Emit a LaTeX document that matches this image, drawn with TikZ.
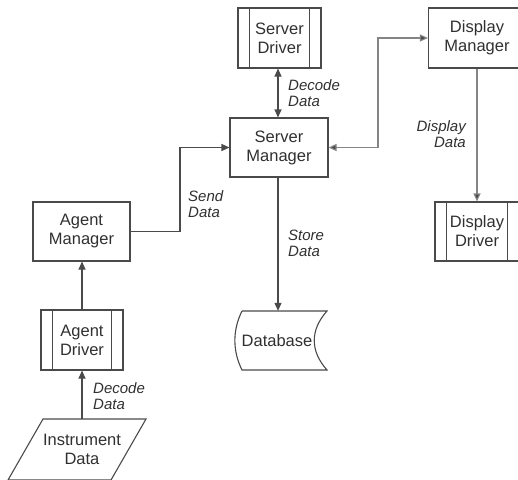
\documentclass[tikz,border=0pt]{standalone}
\usepackage{fontspec}
\setmainfont{Liberation Sans}
\usetikzlibrary{arrows.meta}
\definecolor{boxc}{HTML}{4A4A4A}
\definecolor{linec}{HTML}{4A4A4A}
\definecolor{lightc}{HTML}{858585}
\definecolor{txtc}{HTML}{303030}
\begin{document}
\begin{tikzpicture}[x=1pt,y=-1pt,
  box/.style={draw=boxc, line width=1.1pt, inner sep=0pt, align=center, text=txtc,
    font=\fontsize{16.5}{19}\selectfont},
  procbox/.style={box, path picture={
    \draw[boxc,line width=1.1pt] ([xshift=11.5pt]path picture bounding box.north west) -- ([xshift=11.5pt]path picture bounding box.south west);
    \draw[boxc,line width=1.1pt] ([xshift=-11.5pt]path picture bounding box.north east) -- ([xshift=-11.5pt]path picture bounding box.south east);}},
  plain/.style={inner sep=0pt, align=center, text=txtc, font=\fontsize{16.5}{19}\selectfont},
  shapeline/.style={draw=boxc, line width=1.1pt},
  conn/.style={draw=linec, line width=1.1pt, -{Triangle[length=8pt,width=7pt]}},
  connlight/.style={draw=lightc, line width=1.1pt, -{Triangle[length=8pt,width=7pt,fill=linec]}},
  both/.style={{Triangle[length=8pt,width=7pt,fill=linec]}-{Triangle[length=8pt,width=7pt,fill=linec]}},
  lbl/.style={inner sep=0pt, text=txtc, font=\fontsize{15}{16}\selectfont\itshape}
]
\useasboundingbox (0,0) rectangle (518,479);

% nodes
\node[procbox, minimum width=83pt, minimum height=60pt] (sd) at (279.5,38) {Server\\Driver};
\node[box, minimum width=98pt, minimum height=59pt] (sm) at (279,147.5) {Server\\Manager};
\node[box, minimum width=97pt, minimum height=60pt] (dm) at (477,38) {Display\\Manager};
\node[procbox, minimum width=84pt, minimum height=59pt] (dd) at (477,231.5) {Display\\Driver};
\node[box, minimum width=97pt, minimum height=59pt] (am) at (81.5,231.5) {Agent\\Manager};
\node[procbox, minimum width=82pt, minimum height=60pt] (ad) at (82,340) {Agent\\Driver};

% database (stored data symbol)
\draw[shapeline] (242,311) -- (327,311) .. controls (310,330) and (310,351) .. (327,370)
  -- (242,370) .. controls (232.5,351) and (232.5,330) .. (242,311);
\node[plain, minimum width=85pt, minimum height=59pt] (db) at (277,340.5) {Database};

% instrument data (parallelogram)
\draw[shapeline] (43,419) -- (146,419) -- (111,480) -- (8,480) -- cycle;
\node[plain, minimum width=90pt, minimum height=60pt] (idata) at (82,449) {Instrument\\Data};

% bend points
\coordinate (sbend) at (180,0);
\coordinate (rbend) at (378,0);

% connectors
\draw[conn] (idata.north) -- (ad.south);
\draw[conn] (ad.north) -- (ad.north |- am.south);
\draw[conn] (am.east) -- (am.east -| sbend) -- (sbend |- sm.west) -- (sm.west);
\draw[conn, both] (sm.north -| 278,0) -- (278,0 |- sd.south);
\draw[conn] (sm.south -| 278,0) -- (278,0 |- db.north);
\draw[connlight, both] (sm.east) -- (rbend |- sm.east) -- (rbend |- dm.west) -- (dm.west);
\draw[connlight] (dm.south) -- (dd.north);

% labels
\node[lbl, anchor=north west, align=left] (l1) at (288,79) {Decode\\Data};
\node[lbl, anchor=north west, align=left] (l2) at (188,190) {Send\\Data};
\node[lbl, anchor=north west, align=left] (l3) at (288,230) {Store\\Data};
\node[lbl, anchor=north east, align=right] (l4) at (466,120) {Display\\Data};
\node[lbl, anchor=north west, align=left] (l5) at (93,382) {Decode\\Data};
\end{tikzpicture}
\end{document}
